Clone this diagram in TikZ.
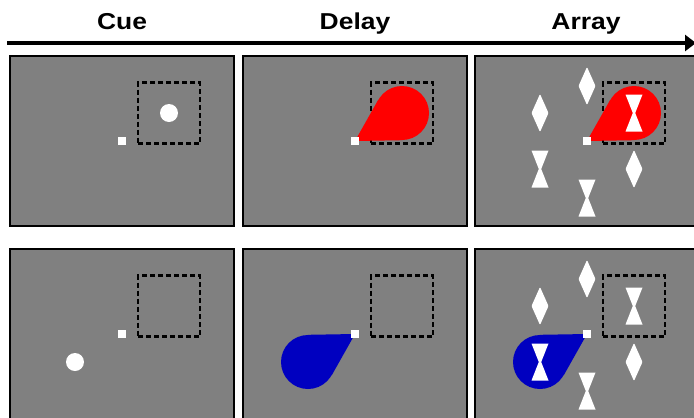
\documentclass[tikz,border=0pt]{standalone}
\usepackage{fontspec}
\setmainfont{Liberation Sans}
\newfontfamily\phasefont[FakeStretch=1.15]{Liberation Sans}
\usetikzlibrary{calc,arrows.meta}
\definecolor{screengray}{HTML}{808080}
\definecolor{cuered}{HTML}{FF0000}
\definecolor{cueblue}{HTML}{0000C0}
\tikzset{
  panel/.style={draw=black, line width=1.8pt, fill=screengray,
    minimum width=224pt, minimum height=170pt, inner sep=0pt},
  fixdot/.style={fill=white, minimum size=8pt, inner sep=0pt},
  cuedot/.style={circle, fill=white, minimum size=18pt, inner sep=0pt},
  cuefield/.style={draw=black, dash pattern=on 5pt off 3pt, line width=2.2pt,
    minimum width=62pt, minimum height=61pt, inner sep=0pt},
  spot/.style={circle, minimum size=54pt, inner sep=0pt},
  phase/.style={font=\phasefont\bfseries\fontsize{23}{23}\selectfont, anchor=base, inner sep=0pt},
  vdiamond/.pic={\fill[white, rounded corners=1pt] (0,-19) -- (8.5,0) -- (0,19) -- (-8.5,0) -- cycle;},
  bowtie/.pic={\fill[white] (-8.5,-18.5) -- (8.5,-18.5) -- (1.2,0) -- (8.5,18.5)
    -- (-8.5,18.5) -- (-1.2,0) -- cycle;},
}
\begin{document}
\begin{tikzpicture}[x=1pt,y=-1pt]
\useasboundingbox (0,0) rectangle (694,418);
\clip (0,0) rectangle (694,418);

% phase labels and time axis
\node[phase] (lcue) at (122,29.5) {Cue};
\node[phase] (ldelay) at (355,29.5) {Delay};
\node[phase] (larray) at (586,29.5) {Array};
\coordinate (tstart) at (7,43);
\coordinate (tend) at (696,43);
\draw[line width=4.5pt, -{Triangle[length=11pt,width=16pt]}] (tstart) -- (tend);

% screens
\node[panel] (cue1) at (122,141) {};
\node[panel] (delay1) at (355,141) {};
\node[panel] (array1) at (587,141) {};
\node[panel] (cue2) at (122,334) {};
\node[panel] (delay2) at (355,334) {};
\node[panel] (array2) at (587,334) {};

% top row: cue in the upper right
\begin{scope}[shift={(cue1.center)}]
  \node[cuefield] (fieldc1) at (47,-28) {};
  \node[cuedot] (dotc1) at (47,-28) {};
  \node[fixdot] (fixc1) at (0,0) {};
\end{scope}

\begin{scope}[shift={(delay1.center)}]
  \node[cuefield] (fieldd1) at (47,-28) {};
  \coordinate (apexd1) at (0,0);
  \node[spot, fill=cuered] (spotd1) at (47,-28) {};
  \fill[cuered] (apexd1) -- (tangent cs:node=spotd1,point={(apexd1)},solution=1)
    -- (tangent cs:node=spotd1,point={(apexd1)},solution=2) -- cycle;
  \node[fixdot] (fixd1) at (0,0) {};
\end{scope}

\begin{scope}[shift={(array1.center)}]
  \node[cuefield] (fielda1) at (47,-28) {};
  \coordinate (apexa1) at (0,0);
  \node[spot, fill=cuered] (spota1) at (47,-28) {};
  \fill[cuered] (apexa1) -- (tangent cs:node=spota1,point={(apexa1)},solution=1)
    -- (tangent cs:node=spota1,point={(apexa1)},solution=2) -- cycle;
  \pic at (0,-55) {vdiamond};
  \pic at (47,-28) {bowtie};
  \pic at (47,28) {vdiamond};
  \pic at (0,57) {bowtie};
  \pic at (-47,28) {bowtie};
  \pic at (-47,-28) {vdiamond};
  \node[fixdot] (fixa1) at (0,0) {};
\end{scope}

% bottom row: cue in the lower left
\begin{scope}[shift={(cue2.center)}]
  \node[cuefield] (fieldc2) at (47,-28) {};
  \node[cuedot] (dotc2) at (-47,28) {};
  \node[fixdot] (fixc2) at (0,0) {};
\end{scope}

\begin{scope}[shift={(delay2.center)}]
  \node[cuefield] (fieldd2) at (47,-28) {};
  \coordinate (apexd2) at (0,0);
  \node[spot, fill=cueblue] (spotd2) at (-47,28) {};
  \fill[cueblue] (apexd2) -- (tangent cs:node=spotd2,point={(apexd2)},solution=1)
    -- (tangent cs:node=spotd2,point={(apexd2)},solution=2) -- cycle;
  \node[fixdot] (fixd2) at (0,0) {};
\end{scope}

\begin{scope}[shift={(array2.center)}]
  \node[cuefield] (fielda2) at (47,-28) {};
  \coordinate (apexa2) at (0,0);
  \node[spot, fill=cueblue] (spota2) at (-47,28) {};
  \fill[cueblue] (apexa2) -- (tangent cs:node=spota2,point={(apexa2)},solution=1)
    -- (tangent cs:node=spota2,point={(apexa2)},solution=2) -- cycle;
  \pic at (0,-55) {vdiamond};
  \pic at (47,-28) {bowtie};
  \pic at (47,28) {vdiamond};
  \pic at (0,57) {bowtie};
  \pic at (-47,28) {bowtie};
  \pic at (-47,-28) {vdiamond};
  \node[fixdot] (fixa2) at (0,0) {};
\end{scope}
\end{tikzpicture}
\end{document}
